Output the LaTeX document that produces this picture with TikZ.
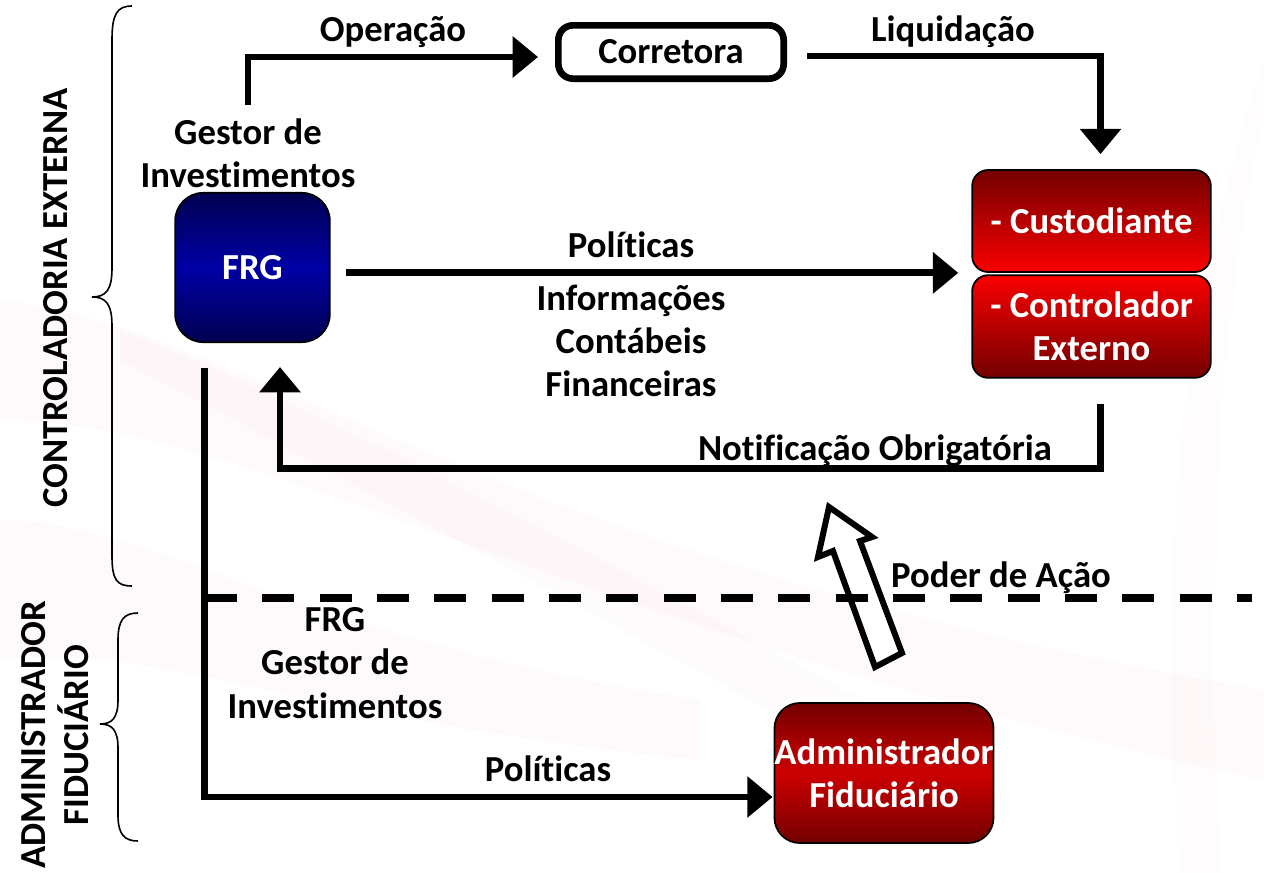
\documentclass[tikz,border=0pt]{standalone}
\usepackage{fontspec}
\setmainfont{Carlito}[Ligatures={NoCommon}]
\usetikzlibrary{arrows.meta,calc}
\definecolor{navyD}{RGB}{0,0,80}
\definecolor{navyL}{RGB}{0,0,165}
\definecolor{redD}{RGB}{115,0,0}
\definecolor{redL}{RGB}{250,0,0}
\definecolor{redM}{RGB}{205,0,0}
\definecolor{swoosh}{RGB}{235,120,150}
\begin{document}
\begin{tikzpicture}[x=0.75pt,y=-0.75pt,
  every node/.style={font=\fontsize{27.5}{32.5}\selectfont\bfseries, inner sep=0pt},
  lbl/.style={align=center},
  conn/.style={line width=5.2pt, -{Triangle[length=19pt,width=30pt]}},
  plainline/.style={line width=5.5pt},
  colbox/.style={draw=black, line width=1.3pt, text=white, align=center},
  bracestyle/.style={line width=1.2pt},
]
\useasboundingbox (0,0) rectangle (1264,872);
% faint background swooshes
\fill[swoosh, opacity=0.04] (0,300) .. controls (250,330) and (500,560) .. (1264,690) -- (1264,780) .. controls (600,640) and (250,420) .. (0,420) -- cycle;
\fill[swoosh, opacity=0.04] (0,520) .. controls (150,520) and (300,640) .. (700,700) -- (700,760) .. controls (300,720) and (150,640) .. (0,660) -- cycle;
\fill[swoosh, opacity=0.03] (120,330) .. controls (350,420) and (600,560) .. (900,720) -- (900,780) .. controls (600,620) and (350,480) .. (120,360) -- cycle;
\fill[swoosh, opacity=0.025] (1264,60) .. controls (1200,250) and (1150,500) .. (1180,872) -- (1220,872) .. controls (1200,500) and (1230,250) .. (1264,120) -- cycle;

% braces
\draw[bracestyle] (132,6) .. controls (117,6) and (112,14) .. (112,40) -- (112,268) .. controls (112,290) and (106,297) .. (92,297) .. controls (106,297) and (112,304) .. (112,326) -- (112,556) .. controls (112,580) and (117,586) .. (132,586);
\draw[bracestyle] (138,613) .. controls (124,613) and (118,620) .. (118,640) -- (118,700) .. controls (118,718) and (112,724) .. (100,724) .. controls (112,724) and (118,730) .. (118,748) -- (118,815) .. controls (118,834) and (124,841) .. (138,841);

% side labels
\node[rotate=90] (ctrlext) at (56,298) {CONTROLADORIA EXTERNA};
\node[rotate=90, lbl] (admfid) at (55,735) {ADMINISTRADOR\\FIDUCIÁRIO};

% boxes
\node[colbox, rounded corners=21pt, minimum width=116pt, minimum height=112pt,
      top color=navyD, bottom color=navyD, middle color=navyL] (frg) at (252.5,267.5) {FRG};
\node[draw=black, line width=5pt, rounded corners=11pt, minimum width=169pt, minimum height=40pt, fill=white] (corr) at (671,52) {Corretora};
\node[colbox, rounded corners=12pt, minimum width=179pt, minimum height=76.5pt,
      top color=redD, bottom color=redL] (cust) at (1091.5,221) {- Custodiante};
\node[colbox, rounded corners=12pt, minimum width=179pt, minimum height=77pt,
      top color=redL, bottom color=redD] (ctrl) at (1091.5,326.5) {- Controlador\\Externo};
\node[colbox, rounded corners=19pt, minimum width=163.5pt, minimum height=105pt,
      top color=redD, bottom color=redD, middle color=redM] (admin) at (884,773) {Administrador\\Fiduciário};

% text labels
\node[lbl] (gestor) at (248,153) {Gestor de\\Investimentos};
\node (oper) at (393,32) {Operação};
\node (liq) at (953,32) {Liquidação};
\node (pol1) at (631,245) {Políticas};
\node[lbl] (info) at (631,341) {Informações\\Contábeis\\Financeiras};
\node (notif) at (875,451) {Notificação Obrigatória};
\node (poder) at (1001,578) {Poder de Ação};
\node[lbl] (frg2) at (335,663) {FRG\\Gestor de\\Investimentos};
\node (pol2) at (548,769) {Políticas};

% connectors
\draw[conn] ($(gestor.north)+(0,-13)$) |- ($(corr.west)+(-17,5)$);
\draw[conn] ($(corr.east)+(20,4)$) -| ($(cust.north)+(9,-15)$);
\draw[conn] ($(frg.east |- cust.south)+(15,0)$) -- ($(cust.south west)+(-13,0)$);
\draw[conn] ($(ctrl.south)+(9,25)$) |- ($(frg.south)+(27.5,125)$) -- ($(frg.south)+(27.5,24)$);
\draw[conn] ($(frg.south west)+(30,25)$) |- ($(admin.west)+(-1,24)$);

% hollow arrow (Poder de Ação)
\draw[line width=4.5pt, fill=white, line join=miter] (829,507) -- (872,537) -- (860,541) -- (902,653) -- (875,667) -- (833,551) -- (818,557) -- cycle;

% dashed separator
\coordinate (d0) at (205,598);
\coordinate (d1) at (1252,598);
\draw[plainline, dash pattern=on 24pt off 19pt] (d0) -- (d1);
\end{tikzpicture}
\end{document}
